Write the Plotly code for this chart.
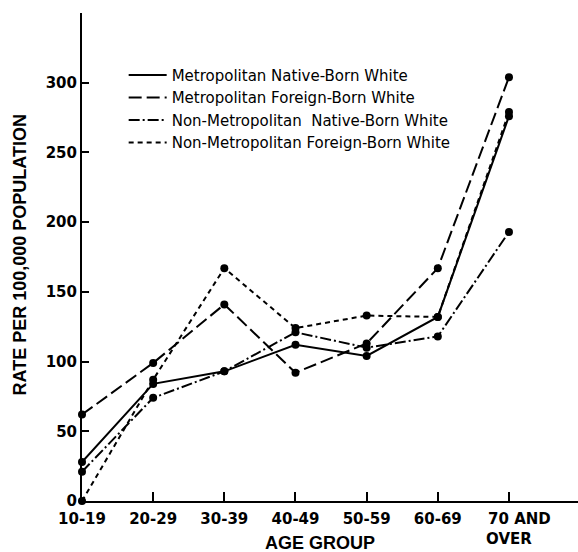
import plotly.graph_objects as go

age_groups = ["10-19", "20-29", "30-39", "40-49", "50-59", "60-69",
              "\u00a0\u00a0\u00a0\u00a070 AND<br>OVER"]
metro_native = [28, 84, 93, 112, 104, 132, 276]
metro_foreign = [62, 99, 141, 92, 113, 167, 304]
nonmetro_native = [21, 74, 93, 121, 110, 118, 193]
nonmetro_foreign = [0, 87, 167, 124, 133, 132, 279]
y_ticks = [0, 50, 100, 150, 200, 250, 300]

series = [
    ("Metropolitan Native-Born White", metro_native, "solid"),
    ("Metropolitan Foreign-Born White", metro_foreign, "13px,5px"),
    ("Non-Metropolitan  Native-Born White", nonmetro_native, "11px,3px,2px,3px"),
    ("Non-Metropolitan Foreign-Born White", nonmetro_foreign, "5px,4px"),
]

xs = list(range(len(age_groups)))
fig = go.Figure()
for name, vals, dash in series:
    fig.add_trace(go.Scatter(
        x=xs, y=vals, name=name, mode="lines+markers", showlegend=False,
        line=dict(color="black", width=2, dash=dash),
        marker=dict(color="black", size=8),
        cliponaxis=False,
    ))
for name, vals, dash in series:
    fig.add_trace(go.Scatter(
        x=[None], y=[None], name=name, mode="lines", showlegend=True,
        line=dict(color="black", width=2, dash=dash),
    ))

tick_font = dict(family="DejaVu Sans, sans-serif", size=15, weight="bold", color="black")
title_font = dict(family="Liberation Sans, Arial, sans-serif", size=18, weight="bold", color="black")

fig.update_layout(
    width=578, height=552,
    margin=dict(l=82, r=0, t=13, b=51, autoexpand=False),
    paper_bgcolor="white", plot_bgcolor="white",
    showlegend=True,
    legend=dict(x=0.084, y=0.906, xanchor="left", yanchor="top",
                bgcolor="rgba(0,0,0,0)",
                font=dict(family="DejaVu Sans, sans-serif", size=15, color="black"),
                tracegroupgap=0, itemwidth=38),
    xaxis=dict(
        range=[0, 6.97], tickmode="array", tickvals=xs, ticktext=age_groups,
        ticks="inside", ticklen=9, tickwidth=1.5, tickcolor="black",
        showline=True, linecolor="black", linewidth=2, showgrid=False, zeroline=False,
        tickfont=tick_font, ticklabelstandoff=3, automargin=False,
    ),
    yaxis=dict(
        range=[0, 350], tickmode="array", tickvals=y_ticks,
        ticks="inside", ticklen=7, tickwidth=1.5, tickcolor="black",
        showline=True, linecolor="black", linewidth=2, showgrid=False, zeroline=False,
        tickfont=tick_font, ticklabelstandoff=0, automargin=False,
    ),
    annotations=[
        dict(text="AGE GROUP", xref="paper", yref="paper",
             x=(320 - 82) / 496, y=-(543 - 501) / 488, xanchor="center", yanchor="middle",
             showarrow=False, font=title_font),
        dict(text="RATE PER 100,000 POPULATION", xref="paper", yref="paper",
             x=-(82 - 19.5) / 496, y=(501 - 255) / 488, xanchor="center", yanchor="middle",
             textangle=-90, showarrow=False, font=title_font),
    ],
)
fig.write_html("out.html", config={"displayModeBar": False},
               post_script="document.body.style.margin='0';document.body.style.padding='0';")
